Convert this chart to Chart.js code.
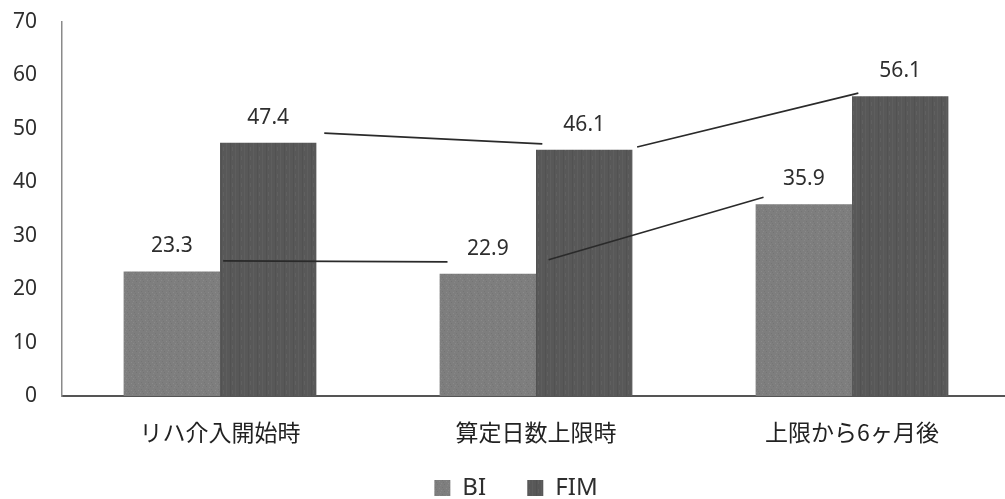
<!DOCTYPE html>
<html>
<head>
<meta charset="utf-8">
<script src="https://cdn.jsdelivr.net/npm/chart.js@4/dist/chart.umd.min.js"></script>
<style>
  html, body { margin: 0; padding: 0; background: #fff; overflow: hidden; }
  #wrap { width: 1012px; height: 510px; }
</style>
</head>
<body>
<div id="wrap"><canvas id="chart"></canvas></div>
<script>
var categories = ['リハ介入開始時', '算定日数上限時', '上限から6ヶ月後'];
var biValues = [23.3, 22.9, 35.9];
var fimValues = [47.4, 46.1, 56.1];
var yTicks = [0, 10, 20, 30, 40, 50, 60, 70];

// connector lines between the groups: [category position, score]
var links = [
  [[0.33, 49.2], [1.02, 47.2]],
  [[1.32, 46.6], [2.02, 56.7]],
  [[0.01, 25.3], [0.72, 25.1]],
  [[1.04, 25.5], [1.72, 37.2]]
];

var textFont = '"Noto Sans", sans-serif';
var cjkFont = '"Noto Sans CJK JP", "Noto Sans", sans-serif';

// small fill tiles: speckled grey for BI, streaked dark grey for FIM
function makeTile(w, h, base, marks) {
  var c = document.createElement('canvas');
  c.width = w;
  c.height = h;
  var g = c.getContext('2d');
  g.fillStyle = base;
  g.fillRect(0, 0, w, h);
  marks.forEach(function (m) {
    g.fillStyle = m[4];
    g.fillRect(m[0], m[1], m[2], m[3]);
  });
  return g.createPattern(c, 'repeat');
}

var biFill = makeTile(7, 7, '#7e7e7e', [
  [0, 0, 1, 1, '#898989'], [3, 1, 1, 1, '#747474'], [6, 2, 1, 1, '#878787'],
  [1, 4, 1, 1, '#757575'], [5, 5, 1, 1, '#8a8a8a'], [2, 6, 1, 1, '#767676']
]);
var fimFill = makeTile(9, 9, '#585858', [
  [1, 0, 1, 9, '#5e5e5e'], [5, 0, 1, 9, '#525252'], [7, 3, 1, 4, '#606060']
]);

var connectors = {
  id: 'connectors',
  afterDatasetsDraw: function (chart) {
    var ctx = chart.ctx;
    var xs = chart.scales.x;
    var ys = chart.scales.y;
    ctx.save();
    ctx.strokeStyle = '#2a2a2a';
    ctx.lineWidth = 1.7;
    links.forEach(function (seg) {
      ctx.beginPath();
      ctx.moveTo(xs.getPixelForValue(seg[0][0]), ys.getPixelForValue(seg[0][1]));
      ctx.lineTo(xs.getPixelForValue(seg[1][0]), ys.getPixelForValue(seg[1][1]));
      ctx.stroke();
    });
    ctx.restore();
  }
};

// value labels above each bar
var barLabels = {
  id: 'barLabels',
  afterDatasetsDraw: function (chart) {
    var ctx = chart.ctx;
    ctx.save();
    ctx.font = '21px ' + textFont;
    ctx.fillStyle = '#2e2e2e';
    ctx.textAlign = 'center';
    ctx.textBaseline = 'middle';
    chart.data.datasets.forEach(function (ds, i) {
      chart.getDatasetMeta(i).data.forEach(function (bar, j) {
        ctx.fillText(ds.data[j].toFixed(1), bar.x, bar.y - 25);
      });
    });
    ctx.restore();
  }
};

// nudge the legend a little to the right of the canvas centre
var legendShift = {
  id: 'legendShift',
  afterLayout: function (chart) {
    chart.legend.left += 22;
  }
};

new Chart(document.getElementById('chart'), {
  type: 'bar',
  data: {
    labels: categories,
    datasets: [
      { label: 'BI', data: biValues, backgroundColor: biFill },
      { label: 'FIM', data: fimValues, backgroundColor: fimFill }
    ]
  },
  options: {
    responsive: true,
    maintainAspectRatio: false,
    animation: false,
    categoryPercentage: 0.61,
    barPercentage: 1.0,
    layout: { padding: { top: 22, right: 2, left: 0, bottom: 0 } },
    scales: {
      x: {
        grid: { display: false, drawTicks: false },
        border: { display: true, color: '#555', width: 2 },
        ticks: { color: '#222', padding: 22, font: { family: cjkFont, size: 23, lineHeight: 1.2 } },
        afterFit: function (scale) { scale.height = 70; }
      },
      y: {
        min: 0,
        max: 70,
        afterBuildTicks: function (scale) {
          scale.ticks = yTicks.map(function (v) { return { value: v }; });
        },
        grid: { display: false, drawTicks: true, tickLength: 22 },
        border: { display: true, color: '#8a8a8a', width: 1.5 },
        ticks: { color: '#2e2e2e', padding: 3, font: { family: textFont, size: 21 } },
        afterFit: function (scale) { scale.width = 62; }
      }
    },
    plugins: {
      legend: {
        position: 'bottom',
        labels: {
          color: '#2e2e2e',
          boxWidth: 16,
          boxHeight: 16,
          padding: 10,
          font: { family: textFont, size: 24 },
          generateLabels: function (chart) {
            return chart.data.datasets.map(function (ds, i) {
              return {
                text: i === 0 ? ds.label + '     ' : ds.label,
                fillStyle: ds.backgroundColor,
                strokeStyle: ds.backgroundColor,
                lineWidth: 0,
                fontColor: '#2e2e2e',
                datasetIndex: i
              };
            });
          }
        }
      },
      tooltip: { enabled: false }
    }
  },
  plugins: [connectors, barLabels, legendShift]
});
</script>
</body>
</html>
